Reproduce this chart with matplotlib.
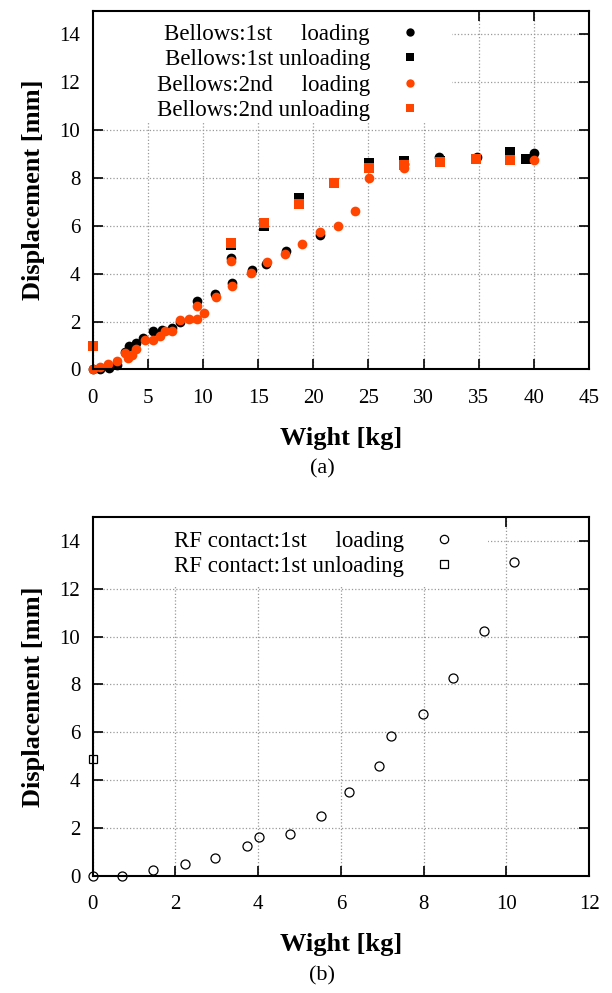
import matplotlib
matplotlib.use("Agg")
import matplotlib.pyplot as plt
from matplotlib.patches import Rectangle

plt.rcParams['font.family'] = ['Liberation Serif', 'DejaVu Serif']

ORANGE = '#ff4500'

# (a) Bellows
b1_load_x = [0, 0.7, 1.45, 2.2, 2.9, 3.25, 3.9, 4.6, 5.5, 6.3, 7.2, 7.95, 9.45,
             11.1, 12.6, 12.5, 14.4, 15.7, 17.5, 20.6, 28.2, 31.4, 34.8, 40.0]
b1_load_y = [0, 0.03, 0.05, 0.17, 0.75, 1.0, 1.12, 1.32, 1.62, 1.65, 1.72, 2.0, 2.87,
             3.16, 3.62, 4.65, 4.16, 4.4, 4.97, 5.63, 8.6, 8.9, 8.88, 9.03]
b1_unload_x = [0, 12.5, 15.55, 18.73, 21.9, 25.07, 28.2, 31.46, 34.75, 37.8, 39.3]
b1_unload_y = [0.97, 5.2, 5.99, 7.15, 7.78, 8.61, 8.7, 8.7, 8.8, 9.07, 8.79]
b2_load_x = [0, 0.66, 1.42, 2.2, 2.94, 3.24, 3.54, 3.94, 4.7, 5.45, 6.1, 6.57, 7.2,
             7.94, 8.7, 9.45, 9.45, 10.1, 11.14, 12.65, 12.5, 14.37, 15.8, 17.4,
             19.0, 20.6, 22.2, 23.8, 25.07, 28.2, 40.0]
b2_load_y = [0, 0.1, 0.22, 0.35, 0.7, 0.5, 0.62, 0.84, 1.25, 1.25, 1.38, 1.6, 1.62,
             2.07, 2.1, 2.1, 2.65, 2.36, 3.04, 3.5, 4.52, 4.03, 4.51, 4.83,
             5.25, 5.74, 6.0, 6.63, 8.0, 8.42, 8.76]
b2_unload_x = [0, 12.5, 15.55, 18.73, 21.9, 25.07, 28.2, 31.46, 34.75, 37.8]
b2_unload_y = [0.97, 5.27, 6.11, 6.92, 7.78, 8.40, 8.55, 8.65, 8.79, 8.76]

# (b) RF contact
rf_load_x = [0, 0.72, 1.46, 2.23, 2.96, 3.72, 4.02, 4.76, 5.51, 6.19, 6.91, 7.21,
             7.99, 8.71, 9.46, 10.19]
rf_load_y = [0, 0, 0.23, 0.48, 0.72, 1.25, 1.61, 1.74, 2.50, 3.49, 4.59, 5.85,
             6.77, 8.26, 10.25, 13.14]
rf_unload_x = [0]
rf_unload_y = [4.86]

fig = plt.figure(figsize=(6.12, 9.93), dpi=100)
ax1 = fig.add_axes([0.1515, 0.6279, 0.811, 0.3615])
ax2 = fig.add_axes([0.1515, 0.1183, 0.811, 0.3610])

def style(ax, xmax, xstep):
    ax.set_xlim(0, xmax)
    ax.set_ylim(0, 15)
    ax.set_xticks(range(0, xmax + 1, xstep))
    ax.set_yticks(range(0, 15, 2))
    ax.tick_params(direction='in', length=7, width=1.2, top=True, right=True,
                   labelsize=15, pad=9)
    ax.tick_params(axis='x', pad=14)
    ax.grid(True, color='#999999', linestyle=':', linewidth=0.9)
    ax.set_axisbelow(True)
    for s in ax.spines.values():
        s.set_linewidth(1.5)
    ax.set_xlabel('Wight [kg]', fontsize=19, fontweight='bold', labelpad=14)
    ax.set_ylabel('Displacement [mm]', fontsize=19, fontweight='bold', labelpad=10)

style(ax1, 45, 5)
style(ax2, 12, 2)

ms = 7
ax1.plot(b1_load_x, b1_load_y, 'o', color='black', ms=ms, mew=0, clip_on=False,
         label='Bellows:1st     loading')
ax1.plot(b1_unload_x, b1_unload_y, 's', color='black', ms=ms, mew=0, clip_on=False,
         label='Bellows:1st unloading')
ax1.plot(b2_load_x, b2_load_y, 'o', color=ORANGE, ms=ms, mew=0, clip_on=False,
         label='Bellows:2nd     loading')
ax1.plot(b2_unload_x, b2_unload_y, 's', color=ORANGE, ms=ms, mew=0, clip_on=False,
         label='Bellows:2nd unloading')

ax2.plot(rf_load_x, rf_load_y, 'o', mfc='none', mec='black', ms=6.5, mew=0.9,
         clip_on=False, label='RF contact:1st     loading')
ax2.plot(rf_unload_x, rf_unload_y, 's', mfc='none', mec='black', ms=6, mew=0.9,
         clip_on=False, label='RF contact:1st unloading')

# white key area hiding the grid, as in the original (gnuplot style)
for ax, xr, rw, rb in ((ax1, 0.711, 0.724, 0.689), (ax2, 0.779, 0.797, 0.81)):
    ax.add_patch(Rectangle((0, rb), rw, 1 - rb, transform=ax.transAxes,
                           facecolor='white', edgecolor='none', zorder=1))
    leg = ax.legend(loc='upper right', bbox_to_anchor=(xr, 1.0), markerfirst=False,
                    fontsize=16.5, frameon=False, labelspacing=0.18,
                    handlelength=1.9, handletextpad=0.8, borderpad=0.5,
                    borderaxespad=0.1)
    for h in leg.legend_handles:
        h.set_markersize(6)

fig.text(0.526, 0.528, '(a)', ha='center', va='center', fontsize=16)
fig.text(0.526, 0.017, '(b)', ha='center', va='center', fontsize=16)

fig.savefig('out.png', dpi=100)
